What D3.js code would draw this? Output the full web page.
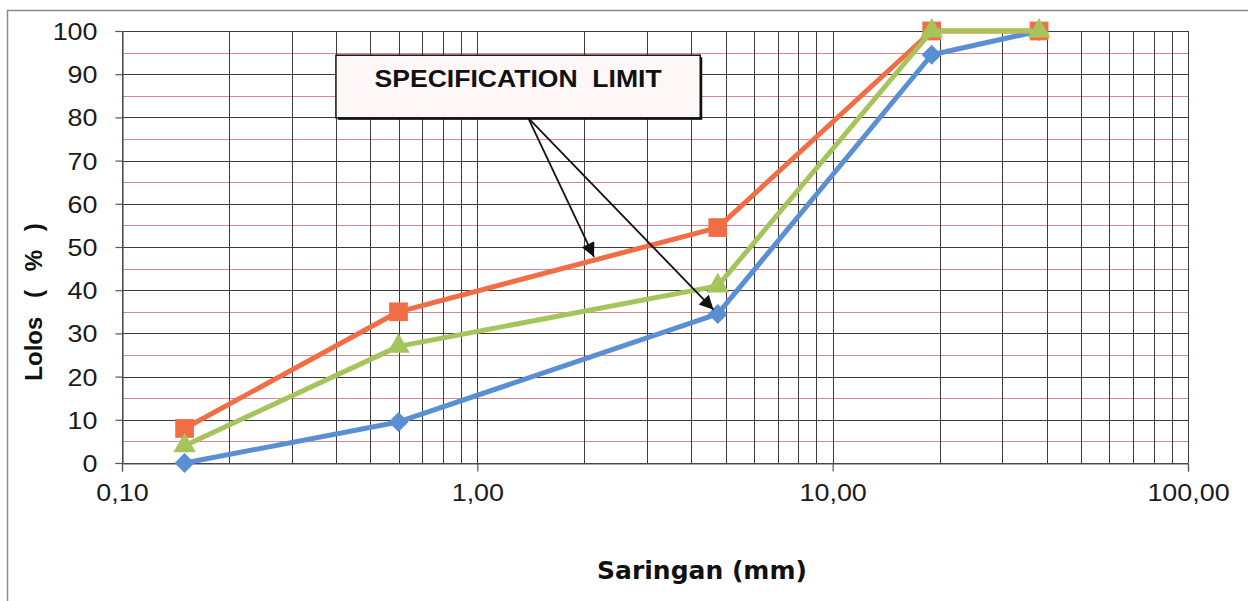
<!DOCTYPE html>
<html>
<head>
<meta charset="utf-8">
<script src="https://cdn.jsdelivr.net/npm/d3@7"></script>
<style>
  html, body { margin: 0; padding: 0; background: #ffffff; }
  svg { display: block; }
  .tick text { font-family: "Liberation Sans", Arial, sans-serif; fill: #1a1a1a; }
  .ylab text { transform-box: fill-box; transform-origin: right center; transform: scaleX(1.12); }
  .xlab text { transform-box: fill-box; transform-origin: center; transform: scaleX(1.12); }
</style>
</head>
<body>
<svg id="chart" width="1248" height="601"></svg>
<script>
// Sieve sizes (mm) and percentage passing for each series
const sieveSizes  = [0.15, 0.6, 4.75, 19, 38.1];
const lowerLimit  = [0, 9.5, 34.5, 94.5, 100];   // blue
const upperLimit  = [8, 35, 54.5, 100, 100];     // orange
const passing     = [4, 27, 41, 100, 100];       // green

const xTickValues = [0.1, 1, 10, 100];
const xTickLabels = ["0,10", "1,00", "10,00", "100,00"];
const yTickValues = [0, 10, 20, 30, 40, 50, 60, 70, 80, 90, 100];
const yMinorValues = [5, 15, 25, 35, 45, 55, 65, 75, 85, 95];

const seriesNames = ["Batas Bawah", "Batas Atas", "Lolos"];

const svg = d3.select("#chart");
const W = 1248, H = 601;
const plot = { left: 122, right: 1188, top: 31, bottom: 463 };

const x = d3.scaleLog().domain([0.1, 100]).range([plot.left, plot.right]);
const y = d3.scaleLinear().domain([0, 100]).range([plot.bottom, plot.top]);

// outer frame
svg.append("rect")
  .attr("x", 7.5).attr("y", 10.5).attr("width", W).attr("height", H)
  .attr("fill", "#ffffff").attr("stroke", "#8a8a8a").attr("stroke-width", 1.5);

// minor horizontal grid (every 5 %)
svg.append("g").selectAll("line").data(yMinorValues).join("line")
  .attr("x1", plot.left).attr("x2", plot.right)
  .attr("y1", d => Math.round(y(d)) + 0.5).attr("y2", d => Math.round(y(d)) + 0.5)
  .attr("stroke", "#d98794").attr("stroke-width", 1);

// vertical grid on every log tick
const logTicks = [];
for (let dec = 0.1; dec < 100; dec *= 10) {
  for (let k = 1; k <= 9; k++) logTicks.push(+(k * dec).toPrecision(3));
}
logTicks.push(100);
svg.append("g").selectAll("line").data(logTicks).join("line")
  .attr("x1", d => Math.round(x(d)) + 0.5).attr("x2", d => Math.round(x(d)) + 0.5)
  .attr("y1", plot.top).attr("y2", plot.bottom)
  .attr("stroke", "#3c3c3c").attr("stroke-width", 1);

// major horizontal grid
svg.append("g").selectAll("line").data(yTickValues).join("line")
  .attr("x1", plot.left).attr("x2", plot.right)
  .attr("y1", d => Math.round(y(d)) + 0.5).attr("y2", d => Math.round(y(d)) + 0.5)
  .attr("stroke", "#3c3c3c").attr("stroke-width", 1);

// axes
const yAxis = d3.axisLeft(y).tickValues(yTickValues).tickSize(7).tickPadding(18).tickFormat(d3.format("d"));
const gy = svg.append("g").attr("class", "ylab").attr("transform", `translate(${plot.left + 0.5},0)`).call(yAxis);
gy.selectAll("text").attr("font-size", 24).attr("dy", "0.35em");

const xAxis = d3.axisBottom(x).tickValues(xTickValues).tickSize(8).tickPadding(12)
  .tickFormat((d, i) => xTickLabels[i]);
const gx = svg.append("g").attr("class", "xlab").attr("transform", `translate(0,${plot.bottom + 0.5})`).call(xAxis);
gx.selectAll("text").attr("font-size", 24);

[gx, gy].forEach(g => {
  g.select(".domain").attr("stroke", "#555").attr("stroke-width", 1.2);
  g.selectAll(".tick line").attr("stroke", "#555").attr("stroke-width", 1.2);
});

// axis titles
svg.append("text")
  .attr("x", 702).attr("y", 579)
  .attr("text-anchor", "middle")
  .attr("font-family", "'DejaVu Sans', Verdana, sans-serif")
  .attr("font-weight", "bold").attr("font-size", 25)
  .attr("fill", "#111")
  .text("Saringan (mm)");

svg.append("text")
  .attr("transform", "translate(42,302) rotate(-90)")
  .attr("text-anchor", "middle")
  .attr("font-family", "'Liberation Sans', Arial, sans-serif")
  .attr("font-weight", "bold").attr("font-size", 24)
  .attr("word-spacing", 12)
  .attr("fill", "#111")
  .text("Lolos ( % )");

// a diamond with equal width and height
const diamondWide = {
  draw(ctx, size) {
    const r = Math.sqrt(size / 2);
    ctx.moveTo(0, -r); ctx.lineTo(r, 0); ctx.lineTo(0, r); ctx.lineTo(-r, 0); ctx.closePath();
  }
};

// series
const series = [
  { name: seriesNames[0], values: lowerLimit, color: "#5b8fd4", marker: diamondWide, size: 200 },
  { name: seriesNames[1], values: upperLimit, color: "#f06d45", marker: d3.symbolSquare, size: 350 },
  { name: seriesNames[2], values: passing,    color: "#a6c45c", marker: d3.symbolTriangle, size: 220 }
];

const line = d3.line().x(d => x(d[0])).y(d => y(d[1]));

series.forEach(s => {
  const pts = sieveSizes.map((v, i) => [v, s.values[i]]);
  const g = svg.append("g").attr("class", "series");
  g.append("path")
    .attr("d", line(pts))
    .attr("fill", "none")
    .attr("stroke", s.color)
    .attr("stroke-width", 5)
    .attr("stroke-linejoin", "round");
  g.selectAll("path.m").data(pts).join("path")
    .attr("class", "m")
    .attr("transform", d => `translate(${x(d[0])},${y(d[1])})`)
    .attr("d", d3.symbol().type(s.marker).size(s.size))
    .attr("fill", s.color);
});

// callout with arrows
const callout = { x0: 0.40, x1: 4.24, yTop: 94.4, yBottom: 79.9 };
const arrowFrom = [1.39, 79.9];
const arrowTips = [[2.13, 47.7], [4.62, 35.5]];

svg.append("defs").append("marker")
  .attr("id", "arrow").attr("viewBox", "0 0 10 10")
  .attr("refX", 10).attr("refY", 5)
  .attr("markerWidth", 16).attr("markerHeight", 14)
  .attr("markerUnits", "userSpaceOnUse")
  .attr("orient", "auto")
  .append("path").attr("d", "M0,0 L10,5 L0,10 Z").attr("fill", "#111");

arrowTips.forEach(t => {
  svg.append("line")
    .attr("x1", x(arrowFrom[0])).attr("y1", y(arrowFrom[1]))
    .attr("x2", x(t[0])).attr("y2", y(t[1]))
    .attr("stroke", "#111").attr("stroke-width", 1.8)
    .attr("marker-end", "url(#arrow)");
});

const bx0 = x(callout.x0), bx1 = x(callout.x1), by0 = y(callout.yTop), by1 = y(callout.yBottom);
svg.append("rect")
  .attr("x", bx0 + 2).attr("y", by0 + 2).attr("width", bx1 - bx0).attr("height", by1 - by0)
  .attr("fill", "#111");
svg.append("rect")
  .attr("x", bx0).attr("y", by0).attr("width", bx1 - bx0).attr("height", by1 - by0)
  .attr("fill", "#fdf7f7").attr("stroke", "#111").attr("stroke-width", 1.5);
svg.append("text")
  .attr("x", (bx0 + bx1) / 2).attr("y", by0 + 32)
  .attr("text-anchor", "middle")
  .attr("font-family", "'Liberation Sans', Arial, sans-serif")
  .attr("font-weight", "bold").attr("font-size", 24)
  .attr("fill", "#111")
  .attr("textLength", 287).attr("lengthAdjust", "spacingAndGlyphs")
  .attr("xml:space", "preserve")
  .text("SPECIFICATION  LIMIT");
</script>
</body>
</html>
